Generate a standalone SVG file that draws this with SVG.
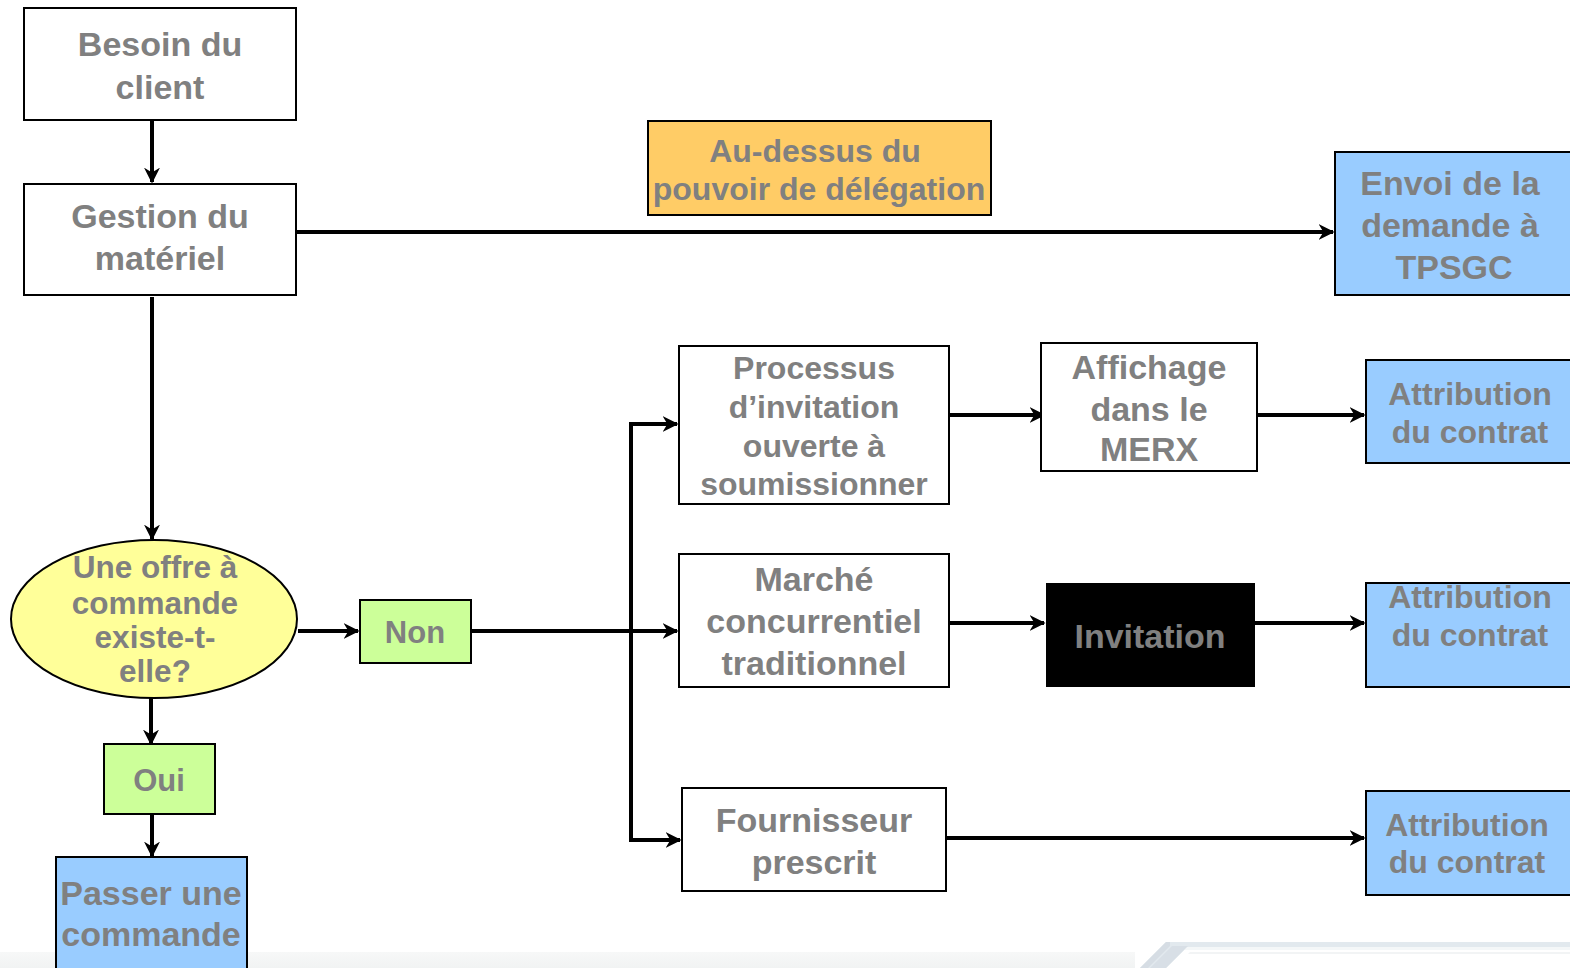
<svg xmlns="http://www.w3.org/2000/svg" width="1570" height="968" viewBox="0 0 1570 968">
<style>
.box{stroke:#000;stroke-width:2}
.w{fill:#fff}
.b{fill:#99ccff}
.g{fill:#ccff99}
.t{font-family:"Liberation Sans",Arial,sans-serif;font-weight:bold;fill:#808080;text-anchor:middle}
.c{fill:none;stroke:#000;stroke-width:4}
</style>
<defs>
<marker id="ah" viewBox="0 0 10 10" refX="9" refY="5" markerWidth="4" markerHeight="4" orient="auto" markerUnits="strokeWidth">
<path d="M0,0 L10,5 L0,10 L3,5 Z" fill="#000"/>
</marker>
<linearGradient id="band" x1="0" y1="0" x2="0" y2="1">
<stop offset="0" stop-color="#f7f8f8"/>
<stop offset="1" stop-color="#f1f3f3"/>
</linearGradient>
</defs>
<rect width="1570" height="968" fill="#fff"/>
<g id="decor">
<rect x="0" y="952" width="1135" height="16" fill="url(#band)"/>
<polygon points="1166,942 1570,942 1570,947 1187,947 1166,968 1140,968" fill="#e2e9ee"/>
<polygon points="1187,947 1570,947 1570,950 1184,950" fill="#f4f7f8"/>
<polygon points="1140,968 1166,942 1170,942 1170,946 1148,968" fill="#d6dde4"/>
<polygon points="1150,968 1172,946 1188,946 1166,968" fill="#d8dfe6"/>
<polygon points="1190,952 1570,952 1570,954 1188,954" fill="#f2f4f5"/>
</g>
<g id="connectors">
<line class="c" x1="152" y1="120" x2="152" y2="182" marker-end="url(#ah)"/>
<line class="c" x1="297" y1="232" x2="1333" y2="232" marker-end="url(#ah)"/>
<line class="c" x1="152" y1="297" x2="152" y2="539" marker-end="url(#ah)"/>
<line class="c" x1="298" y1="631" x2="358" y2="631" marker-end="url(#ah)"/>
<line class="c" x1="471" y1="631" x2="677" y2="631" marker-end="url(#ah)"/>
<polyline class="c" points="677,424 631,424 631,840 680,840" marker-end="url(#ah)"/>
<line class="c" x1="631" y1="424" x2="677" y2="424" marker-end="url(#ah)"/>
<line class="c" x1="950" y1="415" x2="1044" y2="415" marker-end="url(#ah)"/>
<line class="c" x1="1257" y1="415" x2="1364" y2="415" marker-end="url(#ah)"/>
<line class="c" x1="950" y1="623" x2="1044" y2="623" marker-end="url(#ah)"/>
<line class="c" x1="1255" y1="623" x2="1364" y2="623" marker-end="url(#ah)"/>
<line class="c" x1="946" y1="838" x2="1364" y2="838" marker-end="url(#ah)"/>
<line class="c" x1="151" y1="698" x2="151" y2="744" marker-end="url(#ah)"/>
<line class="c" x1="152" y1="814" x2="152" y2="856" marker-end="url(#ah)"/>
</g>
<g id="besoin">
<rect class="box w" x="24" y="8" width="272" height="112"/>
<text class="t" font-size="34" x="160" y="56">Besoin du</text>
<text class="t" font-size="34" x="160" y="99">client</text>
</g>
<g id="gestion">
<rect class="box w" x="24" y="184" width="272" height="111"/>
<text class="t" font-size="34" x="160" y="228">Gestion du</text>
<text class="t" font-size="34" x="160" y="270">matériel</text>
</g>
<g id="audessus">
<rect class="box" fill="#ffcc66" x="648" y="121" width="343" height="94"/>
<text class="t" font-size="32" x="815" y="162">Au-dessus du</text>
<text class="t" font-size="32" x="819" y="200">pouvoir de délégation</text>
</g>
<g id="envoi">
<rect class="box b" x="1335" y="152" width="240" height="143"/>
<text class="t" font-size="34" x="1450" y="195">Envoi de la</text>
<text class="t" font-size="34" x="1450" y="237">demande à</text>
<text class="t" font-size="34" x="1454" y="279">TPSGC</text>
</g>
<g id="question">
<ellipse class="box" fill="#ffff99" cx="154" cy="619" rx="143" ry="79"/>
<text class="t" font-size="31.5" x="155" y="578">Une offre à</text>
<text class="t" font-size="31.5" x="155" y="614">commande</text>
<text class="t" font-size="31.5" x="155" y="648">existe-t-</text>
<text class="t" font-size="31.5" x="155" y="682">elle?</text>
</g>
<g id="non">
<rect class="box g" x="360" y="600" width="111" height="63"/>
<text class="t" font-size="31" x="415" y="643">Non</text>
</g>
<g id="oui">
<rect class="box g" x="104" y="744" width="111" height="70"/>
<text class="t" font-size="31" x="159" y="791">Oui</text>
</g>
<g id="passer">
<rect class="box b" x="56" y="857" width="191" height="120"/>
<text class="t" font-size="34" x="151" y="905">Passer une</text>
<text class="t" font-size="34" x="151" y="946">commande</text>
</g>
<g id="processus">
<rect class="box w" x="679" y="346" width="270" height="158"/>
<text class="t" font-size="32" x="814" y="379">Processus</text>
<text class="t" font-size="32" x="814" y="418">d’invitation</text>
<text class="t" font-size="32" x="814" y="457">ouverte à</text>
<text class="t" font-size="32" x="814" y="495">soumissionner</text>
</g>
<g id="affichage">
<rect class="box w" x="1041" y="343" width="216" height="128"/>
<text class="t" font-size="34" x="1149" y="379">Affichage</text>
<text class="t" font-size="34" x="1149" y="421">dans le</text>
<text class="t" font-size="34" x="1149" y="461">MERX</text>
</g>
<g id="attribution1">
<rect class="box b" x="1366" y="360" width="210" height="103"/>
<text class="t" font-size="32" x="1470" y="405">Attribution</text>
<text class="t" font-size="32" x="1470" y="443">du contrat</text>
</g>
<g id="marche">
<rect class="box w" x="679" y="554" width="270" height="133"/>
<text class="t" font-size="34" x="814" y="591">Marché</text>
<text class="t" font-size="34" x="814" y="633">concurrentiel</text>
<text class="t" font-size="34" x="814" y="675">traditionnel</text>
</g>
<g id="invitation">
<rect fill="#000" x="1046" y="583" width="209" height="104"/>
<text class="t" font-size="34" x="1150" y="648">Invitation</text>
</g>
<g id="attribution2">
<rect class="box b" x="1366" y="583" width="210" height="104"/>
<text class="t" font-size="32" x="1470" y="608">Attribution</text>
<text class="t" font-size="32" x="1470" y="646">du contrat</text>
</g>
<g id="fournisseur">
<rect class="box w" x="682" y="788" width="264" height="103"/>
<text class="t" font-size="34" x="814" y="832">Fournisseur</text>
<text class="t" font-size="34" x="814" y="874">prescrit</text>
</g>
<g id="attribution3">
<rect class="box b" x="1366" y="791" width="210" height="104"/>
<text class="t" font-size="32" x="1467" y="836">Attribution</text>
<text class="t" font-size="32" x="1467" y="873">du contrat</text>
</g>
</svg>
